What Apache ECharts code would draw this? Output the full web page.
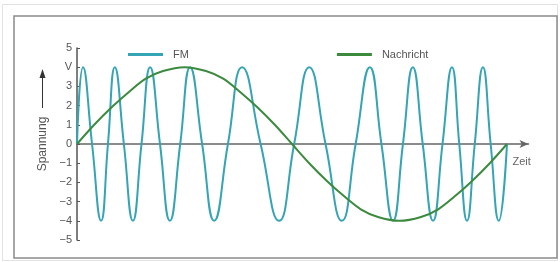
<!DOCTYPE html>
<html>
<head>
<meta charset="utf-8">
<script src="https://cdn.jsdelivr.net/npm/echarts@6/dist/echarts.min.js"></script>
<style>
html,body{margin:0;padding:0;background:#fff;}
#chart{width:560px;height:262px;}
</style>
</head>
<body>
<div id="chart"></div>
<script>
// Time values (0..100 = one period of the message) and voltages
const fmTime = [0, 1.4, 3.5, 5.6, 7.2, 8.8, 10.9, 13.0, 15.0, 17.0, 19.3, 21.6, 24.0, 26.3, 29.1, 31.9, 35.1, 38.4, 42.7, 47.0, 50.5, 54.0, 57.8, 61.6, 64.8, 68.1, 70.8, 73.5, 75.8, 78.1, 80.4, 82.8, 85.0, 87.2, 88.9, 90.7, 92.5, 94.4, 96.2, 98.1, 100];
const fmValues = [0, 4, 0, -4, 0, 4, 0, -4, 0, 4, 0, -4, 0, 4, 0, -4, 0, 4, 0, -4, 0, 4, 0, -4, 0, 4, 0, -4, 0, 4, 0, -4, 0, 4, 0, -4, 0, 4, 0, -4, 0];
const msgTime = [0, 4, 8, 12, 16, 20, 25, 30, 34, 38, 42, 46, 50, 54, 58, 62, 66, 70, 75, 80, 84, 88, 92, 96, 100];
const msgValues = [0, 1.0, 1.9, 2.7, 3.4, 3.8, 4.0, 3.8, 3.4, 2.7, 1.9, 1.0, 0, -1.0, -1.9, -2.7, -3.4, -3.8, -4.0, -3.8, -3.4, -2.7, -1.9, -1.0, 0];
const yTickLabels = {"5": "5", "4": "V", "3": "3", "2": "2", "1": "1", "0": "0", "-1": "\u22121", "-2": "\u22122", "-3": "\u22123", "-4": "\u22124", "-5": "\u22125"};
const seriesNames = ["FM", "Nachricht"];
const xName = "Zeit";
const yName = "Spannung";

const zip = (a, b) => a.map((v, i) => [v, b[i]]);
const font = "Liberation Sans, Arial, sans-serif";
const chart = echarts.init(document.getElementById('chart'), null, {renderer: 'canvas'});
chart.setOption({
  animation: false,
  backgroundColor: '#fff',
  grid: {left: 77, top: 48, width: 451.5, height: 192, containLabel: false},
  legend: {
    left: 123, top: 44, itemWidth: 35, itemHeight: 3, itemGap: 148,
    icon: 'rect',
    textStyle: {fontFamily: font, fontSize: 11, color: '#555', padding: [0, 0, 0, 5]},
    data: seriesNames
  },
  xAxis: {
    type: 'value', min: 0, max: 105,
    name: xName, nameLocation: 'end', nameGap: -16,
    nameTextStyle: {fontFamily: font, fontSize: 11, color: '#666', verticalAlign: 'top', padding: [12, 0, 0, 0]},
    axisLine: {onZero: true, lineStyle: {color: '#666', width: 1.5}, symbol: ['none', 'arrow'], symbolSize: [6, 9]},
    axisTick: {show: false}, axisLabel: {show: false}, splitLine: {show: false}
  },
  yAxis: {
    type: 'value', min: -5, max: 5, interval: 1,
    axisLine: {show: true, lineStyle: {color: '#555', width: 1.5}},
    axisTick: {show: true, inside: true, length: 3, lineStyle: {color: '#555'}},
    axisLabel: {fontFamily: font, fontSize: 11, color: '#555', margin: 5, formatter: v => yTickLabels[String(v)]},
    splitLine: {show: false}
  },
  graphic: [
    {type: 'rect', shape: {x: 2.5, y: 4.5, width: 555, height: 256}, style: {fill: 'none', stroke: '#e2e2e2', lineWidth: 1}, silent: true},
    {type: 'rect', shape: {x: 14, y: 16, width: 543, height: 242}, style: {fill: 'none', stroke: '#8a8a8a', lineWidth: 1.5}, silent: true},
    {type: 'text', x: 43, y: 144, rotation: Math.PI / 2,
     style: {text: yName, font: '12px ' + font, fill: '#555', textAlign: 'center', textVerticalAlign: 'middle'}},
    {type: 'line', shape: {x1: 42.5, y1: 108, x2: 42.5, y2: 76}, style: {stroke: '#333', lineWidth: 1}},
    {type: 'polygon', shape: {points: [[42.5, 69], [39.5, 78], [45.5, 78]]}, style: {fill: '#333'}}
  ],
  series: [
    {name: seriesNames[0], type: 'line', data: zip(fmTime, fmValues), smooth: 0.5, showSymbol: false,
     lineStyle: {color: '#35a4b4', width: 2}, itemStyle: {color: '#35a4b4'}},
    {name: seriesNames[1], type: 'line', data: zip(msgTime, msgValues), smooth: 0.3, showSymbol: false,
     lineStyle: {color: '#3b8a3e', width: 2}, itemStyle: {color: '#3b8a3e'}}
  ]
});
</script>
</body>
</html>
